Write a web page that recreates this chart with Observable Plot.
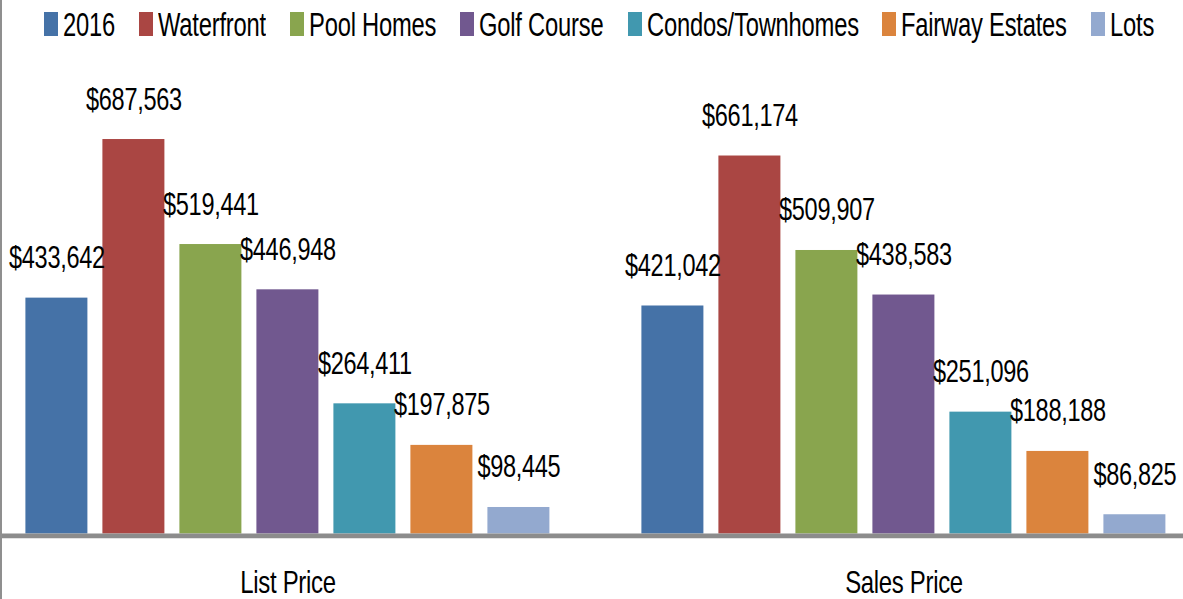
<!DOCTYPE html>
<html><head><meta charset="utf-8">
<script src="https://cdn.jsdelivr.net/npm/d3@7"></script>
<script src="https://cdn.jsdelivr.net/npm/@observablehq/plot@0.6"></script>
<style>
body{margin:0;background:#fff;overflow:hidden}
#wrap{position:relative;width:1183px;height:599px;font-family:"Liberation Sans",Arial,sans-serif;overflow:hidden}
#border{position:absolute;left:0;top:0;width:2px;height:599px;background:#8f8f8f;z-index:2}
#legend{height:50px;display:flex;align-items:flex-start;padding-left:44px;gap:24px;box-sizing:border-box}
.item{display:flex;align-items:flex-start}
.sw{width:14px;height:24px;margin-top:12px;margin-right:5px;flex:none}
.lw{overflow:visible;flex:none}
.lt{display:inline-block;font-size:33px;line-height:33px;margin-top:8px;letter-spacing:-0.3px;color:#000;white-space:nowrap;transform-origin:0 0}
svg{display:block}
</style></head>
<body><div id="wrap"><div id="border"></div><div id="legend"></div><div id="chart"></div></div>
<script>
const groups = ["List Price", "Sales Price"];
const series = ["2016", "Waterfront", "Pool Homes", "Golf Course", "Condos/Townhomes", "Fairway Estates", "Lots"];
const listPrice = [433642, 687563, 519441, 446948, 264411, 197875, 98445];
const salesPrice = [421042, 661174, 509907, 438583, 251096, 188188, 86825];
const colors = ["#4572A7", "#AA4643", "#89A54E", "#71588F", "#4198AF", "#DB843D", "#93A9CF"];
const yMin = 56000, yMax = 800000;
const squeeze = 0.76, legendSqueeze = 0.72;

const data = series.flatMap((s, i) => [
  {group: groups[0], series: s, value: listPrice[i]},
  {group: groups[1], series: s, value: salesPrice[i]}
]);
const fmt = d3.format("$,");

// legend (HTML, above the SVG)
const legend = d3.select("#legend");
series.forEach((s, i) => {
  const it = legend.append("div").attr("class", "item");
  it.append("div").attr("class", "sw").style("background", colors[i]);
  it.append("div").attr("class", "lw").append("span").attr("class", "lt").text(s);
});
legend.selectAll(".lw").each(function() {
  const span = this.firstChild;
  const w = span.getBoundingClientRect().width;
  this.style.width = (w * legendSqueeze) + "px";
  span.style.transform = `scaleX(${legendSqueeze})`;
});

const chart = Plot.plot({
  width: 1183, height: 549,
  marginLeft: 16.6, marginRight: 9, marginTop: 18.8, marginBottom: 65.5,
  fx: {domain: groups, paddingInner: 0.1223, paddingOuter: 0, label: null},
  x: {domain: series, paddingInner: 0.198, paddingOuter: 0.1, axis: null},
  y: {domain: [yMin, yMax], axis: null},
  color: {domain: series, range: colors},
  style: {fontFamily: '"Liberation Sans",Arial,sans-serif', fontSize: "31px", overflow: "visible", background: "transparent"},
  marks: [
    Plot.barY(data, {fx: "group", x: "series", y1: yMin, y2: "value", fill: "series"}),
    Plot.text(data, {fx: "group", x: "series", y: "value", text: d => fmt(d.value), lineAnchor: "bottom", dy: -30, fill: "#000", fontSize: 31}),
    Plot.axisFx({anchor: "bottom", tickSize: 0, tickPadding: 37, fontSize: 31.5, label: null})
  ]
});
// condense every text horizontally around its own anchor
d3.select(chart).selectAll("text").each(function() {
  const x = +(this.getAttribute("x") || 0);
  const t = this.getAttribute("transform") || "";
  this.setAttribute("transform", `${t} translate(${x},0) scale(${squeeze},1) translate(${-x},0)`);
  this.style.letterSpacing = "-0.4px";
});
const y0 = chart.scale("y").apply(yMin);
d3.select(chart).append("line")
  .attr("x1", 0).attr("x2", 1183).attr("y1", y0 + 2.4).attr("y2", y0 + 2.4)
  .attr("stroke", "#8c8c8c").attr("stroke-width", 4.8);
document.getElementById("chart").appendChild(chart);
</script>
</body></html>
